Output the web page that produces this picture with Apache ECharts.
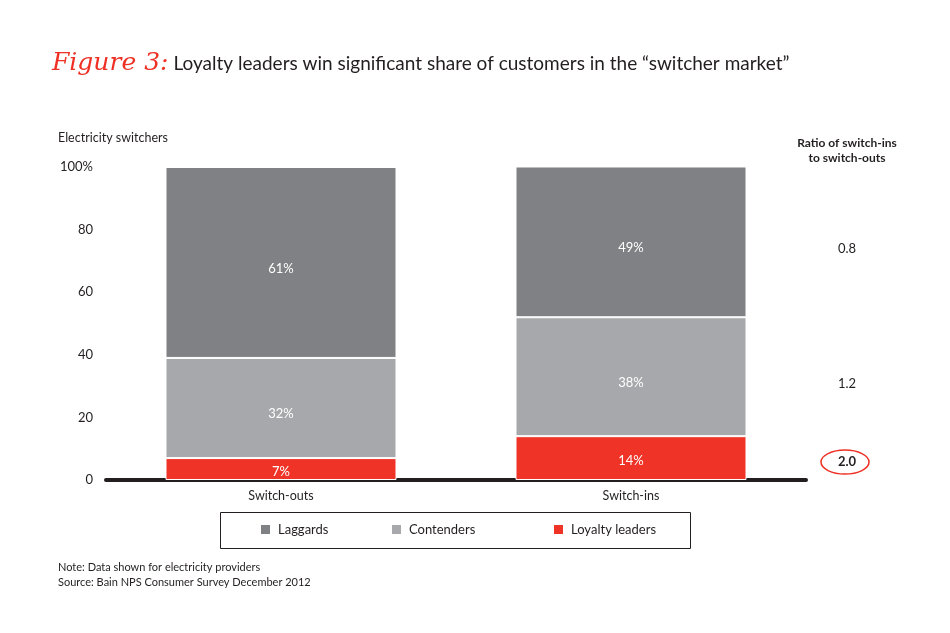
<!DOCTYPE html>
<html>
<head>
<meta charset="utf-8">
<script src="https://cdn.jsdelivr.net/npm/echarts@6/dist/echarts.min.js"></script>
<style>html,body{margin:0;padding:0;background:#fff;}#c{width:950px;height:633px;}</style>
</head>
<body>
<div id="c"></div>
<script>
const categories = ['Switch-outs', 'Switch-ins'];
const loyaltyLeaders = [7, 14];
const contenders = [32, 38];
const laggards = [61, 49];
const ratios = ['0.8', '1.2', '2.0'];
const yTicks = [0, 20, 40, 60, 80, 100];

const FONT = 'Lato';
const INK = '#231f20';
const chart = echarts.init(document.getElementById('c'));

function seriesDef(name, data, color, dy) {
  return {
    name: name, type: 'bar', stack: 'total', data: data, barWidth: '66%',
    itemStyle: { color: color, borderColor: '#ffffff', borderWidth: 1 },
    label: { show: true, position: 'inside', offset: [0, dy], color: '#ffffff', fontFamily: FONT, fontSize: 13,
      formatter: p => p.value + '%' },
    emphasis: { disabled: true }
  };
}
function legendDef(name, left) {
  return {
    data: [name], left: left, top: 523, itemWidth: 11, itemHeight: 11, itemGap: 0, padding: 0,
    icon: 'rect', selectedMode: false,
    textStyle: { color: INK, fontFamily: FONT, fontSize: 13, padding: [0, 0, 0, 2] }
  };
}

chart.setOption({
  animation: false,
  title: {
    left: 47, top: 46,
    text: '{a|Figure 3:} {b|Loyalty leaders win significant share of customers in the \u201cswitcher market\u201d}',
    textStyle: {
      fontWeight: 'normal',
      rich: {
        a: { fontFamily: 'DejaVu Serif', fontStyle: 'italic', fontWeight: 'normal', fontSize: 25, color: '#ee3124' },
        b: { fontFamily: FONT, fontWeight: 'normal', fontSize: 19, color: INK }
      }
    }
  },
  grid: { left: 106, right: 144, top: 167, bottom: 153 },
  legend: [
    legendDef('Laggards', 259),
    legendDef('Contenders', 390),
    legendDef('Loyalty leaders', 552)
  ],
  xAxis: {
    type: 'category', data: categories,
    axisLine: { show: true, lineStyle: { color: INK, width: 4 } },
    axisTick: { show: false },
    axisLabel: { color: INK, fontFamily: FONT, fontSize: 12.5, margin: 9 }
  },
  yAxis: {
    type: 'value', min: 0, max: 100, interval: 20,
    axisLine: { show: false }, axisTick: { show: false }, splitLine: { show: false },
    axisLabel: { color: INK, fontFamily: FONT, fontSize: 13, margin: 13,
      formatter: v => (yTicks.indexOf(v) >= 0 ? (v === 100 ? '100%' : String(v)) : '') }
  },
  series: [
    seriesDef('Loyalty leaders', loyaltyLeaders, '#ef3326', 3),
    seriesDef('Contenders', contenders, '#a7a8ab', 6),
    seriesDef('Laggards', laggards, '#808184', 6)
  ]
});

// Ratio column, aligned with the segments of the Switch-ins bar
const cx = 847;
const mids = [
  (loyaltyLeaders[1] + contenders[1] + 100) / 2,
  loyaltyLeaders[1] + contenders[1] / 2,
  loyaltyLeaders[1] / 2
];
const dys = [7, 7, 4];
const elems = [
  { type: 'text', left: 58, top: 131, style: { text: 'Electricity switchers', fill: INK, font: '12.5px ' + FONT } },
  { type: 'text', x: cx, y: 136, style: { text: 'Ratio of switch-ins\nto switch-outs', fill: INK, font: 'bold 12px ' + FONT, align: 'center', lineHeight: 15 } },
  { type: 'rect', shape: { x: 220.5, y: 512.5, width: 470, height: 36 }, style: { fill: 'none', stroke: INK, lineWidth: 1 } },
  { type: 'text', left: 58, top: 560, style: { text: 'Note: Data shown for electricity providers\nSource: Bain NPS Consumer Survey December 2012', fill: INK, font: '11px ' + FONT, lineHeight: 15 } }
];
ratios.forEach((r, i) => {
  const y = chart.convertToPixel({ gridIndex: 0 }, [1, mids[i]])[1] + dys[i];
  elems.push({ type: 'text', x: cx, y: y, style: { text: r, fill: INK, font: (i === 2 ? 'bold ' : '') + '13px ' + FONT, align: 'center', verticalAlign: 'middle' } });
  if (i === 2) {
    elems.push({ type: 'ellipse', shape: { cx: cx - 2, cy: y, rx: 24, ry: 12 }, style: { fill: 'none', stroke: '#ee3124', lineWidth: 1.5 } });
  }
});
chart.setOption({ graphic: elems });
</script>
</body>
</html>
